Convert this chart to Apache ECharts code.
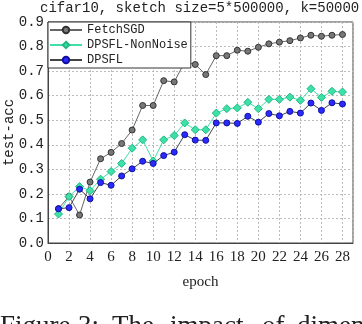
<!DOCTYPE html>
<html><head><meta charset="utf-8">
<script src="https://cdn.jsdelivr.net/npm/echarts@6/dist/echarts.min.js"></script>
<style>html,body{margin:0;padding:0;background:#fff}#c{width:362px;height:324px}</style>
</head><body><div id="c"></div>
<script>
const epochs = [1,2,3,4,5,6,7,8,9,10,11,12,13,14,15,16,17,18,19,20,21,22,23,24,25,26,27,28];
const fetchSGD = [0.14,0.19,0.114,0.248,0.343,0.369,0.405,0.46,0.56,0.56,0.661,0.656,0.737,0.727,0.686,0.763,0.763,0.785,0.781,0.797,0.811,0.818,0.824,0.835,0.846,0.842,0.846,0.849];
const dpsflNonNoise = [0.118,0.189,0.23,0.213,0.26,0.291,0.324,0.386,0.42,0.334,0.42,0.438,0.489,0.461,0.461,0.529,0.547,0.55,0.573,0.547,0.585,0.585,0.594,0.581,0.628,0.593,0.618,0.615];
const dpsfl = [0.139,0.144,0.219,0.18,0.246,0.235,0.273,0.302,0.333,0.324,0.356,0.37,0.441,0.419,0.418,0.489,0.489,0.487,0.516,0.492,0.527,0.518,0.536,0.529,0.57,0.54,0.571,0.566];
const seriesNames = ['FetchSGD','DPSFL-NonNoise','DPSFL'];
const titleText = 'cifar10, sketch size=5*500000, k=50000';
const xName = 'epoch', yName = 'test-acc';
const captionWords = ['Figure','3:','The','impact','of','dimension'];
const captionX = [0,78,112,170,262,297];

const pair = ys => epochs.map((e,i)=>[e,ys[i]]);
const mono = 'Liberation Mono';
const serif = 'Liberation Serif';
const chart = echarts.init(document.getElementById('c'), null, {renderer:'canvas'});
chart.setOption({
  animation:false,
  backgroundColor:'#fff',
  title:{text:titleText,left:40,top:1,padding:0,textStyle:{fontFamily:mono,fontSize:14,fontWeight:'normal',color:'#222'}},
  grid:{left:48,top:22,right:9,bottom:81,containLabel:false,outerBoundsMode:'none',show:true,borderColor:'#444',borderWidth:1,backgroundColor:'transparent'},
  legend:{
    orient:'vertical',left:48,top:22,padding:[2,3,2,1],itemGap:3,itemWidth:32,itemHeight:8,
    backgroundColor:'#fff',borderColor:'#333',borderWidth:1,borderRadius:0,
    textStyle:{fontFamily:mono,fontSize:12,color:'#222'},
    data:seriesNames
  },
  xAxis:{type:'value',min:0,max:29,interval:2,name:xName,nameLocation:'middle',nameGap:32,nameMoveOverlap:false,
    nameTextStyle:{fontFamily:serif,fontSize:15,color:'#222'},
    axisLine:{lineStyle:{color:'#444'}},axisTick:{show:false},
    axisLabel:{fontFamily:serif,fontSize:15,color:'#222',margin:7,showMaxLabel:false},
    splitLine:{show:true,lineStyle:{color:'#bbb',type:[2,2],width:1}}},
  yAxis:{type:'value',min:0,max:0.9,interval:0.1,name:yName,nameLocation:'middle',nameGap:32,nameMoveOverlap:false,
    nameTextStyle:{fontFamily:mono,fontSize:14,color:'#222'},
    axisLine:{show:true,lineStyle:{color:'#444'}},axisTick:{show:false},
    axisLabel:{fontFamily:mono,fontSize:14,color:'#222',margin:4,formatter:v=>v.toFixed(1)},
    splitLine:{show:true,lineStyle:{color:'#bbb',type:[2,2],width:1}}},
  graphic:captionWords.map((w,i)=>({type:'text',left:captionX[i],top:313,style:{text:w,fontFamily:serif,fontSize:27,fill:'#222'}})),
  series:[
    {name:seriesNames[0],type:'line',data:pair(fetchSGD),symbol:'circle',symbolSize:6,
      lineStyle:{color:'#666',width:1},itemStyle:{color:'#777',borderColor:'#333',borderWidth:1},z:2},
    {name:seriesNames[1],type:'line',data:pair(dpsflNonNoise),symbol:'diamond',symbolSize:8,
      lineStyle:{color:'#3ee0a8',width:1},itemStyle:{color:'#3ee0a8',borderColor:'#1fb983',borderWidth:1},z:3},
    {name:seriesNames[2],type:'line',data:pair(dpsfl),symbol:'circle',symbolSize:6,
      lineStyle:{color:'#444',width:1},itemStyle:{color:'#2a2aff',borderColor:'#1010a0',borderWidth:1},z:4}
  ]
});
</script></body></html>
